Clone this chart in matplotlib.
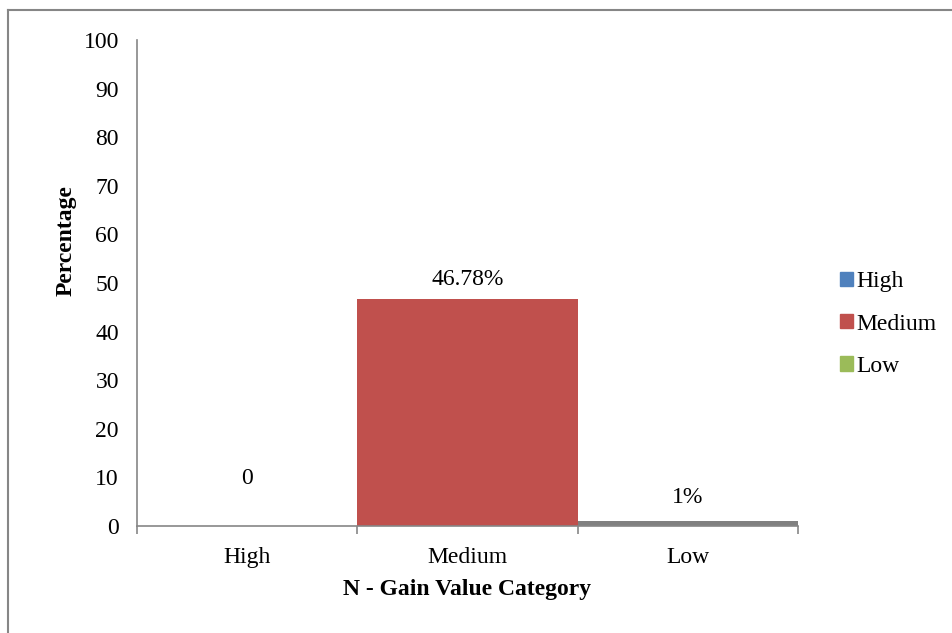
import matplotlib.pyplot as plt
import matplotlib.patches as mpatches
from matplotlib.lines import Line2D

categories = ["High", "Medium", "Low"]
values = [0, 46.78, 1]
labels = ["0", "46.78%", "1%"]
legend_names = ["High", "Medium", "Low"]
legend_colors = ["#4F81BD", "#C0504D", "#9BBB59"]
bar_colors = ["#4F81BD", "#C0504D", "#808080"]

plt.rcParams['font.family'] = ['Liberation Serif', 'DejaVu Serif']
FS = 17

fig = plt.figure(figsize=(9.53, 6.33), dpi=100)
W, H = 953, 633
ax = fig.add_axes([137 / W, 1 - 526 / H, (798 - 137) / W, (526 - 40) / H])

x = list(range(len(categories)))
ax.bar(x, values, width=1.0, color=bar_colors, zorder=2)
# label offsets above bar tops, in points
offsets = [34, 14, 17]
for xi, v, lab, off in zip(x, values, labels, offsets):
    ax.annotate(lab, (xi, v), xytext=(0, off), textcoords='offset points',
                ha='center', va='center', fontsize=FS)

ax.set_xlim(-0.5, 2.5)
ax.set_ylim(0, 100)
ax.set_yticks(range(0, 101, 10))
ax.tick_params(axis='y', length=0, labelsize=FS, pad=13)
ax.set_xticks([-0.5, 0.5, 1.5, 2.5])
ax.set_xticklabels([])
ax.set_xticks(x, minor=True)
ax.set_xticklabels(categories, minor=True, fontsize=FS)
ax.tick_params(axis='x', which='major', length=6, color='#868686', width=1.2)
ax.tick_params(axis='x', which='minor', length=0, pad=15)

for s in ['top', 'right']:
    ax.spines[s].set_visible(False)
for s in ['left', 'bottom']:
    ax.spines[s].set_color('#868686')
    ax.spines[s].set_linewidth(1.2)

ax.set_xlabel("N - Gain Value Category", fontsize=FS, fontweight='bold', labelpad=8)
ax.set_ylabel("Percentage", fontsize=FS, fontweight='bold')
ax.yaxis.set_label_coords(-0.091, 0.588)

handles = [mpatches.Patch(color=c, label=n) for c, n in zip(legend_colors, legend_names)]
fig.legend(handles=handles, loc='center left', bbox_to_anchor=(819 / W, 1 - 324 / H),
           frameon=False, fontsize=FS, handlelength=0.55, handleheight=0.55,
           handletextpad=0.15, labelspacing=0.9)

# outer chart border
fig.add_artist(Line2D([8 / W, 8 / W], [0, 1 - 10 / H], color='#868686', lw=1.5))
fig.add_artist(Line2D([8 / W, 1], [1 - 10 / H, 1 - 10 / H], color='#868686', lw=1.5))

fig.savefig("out.png", dpi=100, facecolor='white')
